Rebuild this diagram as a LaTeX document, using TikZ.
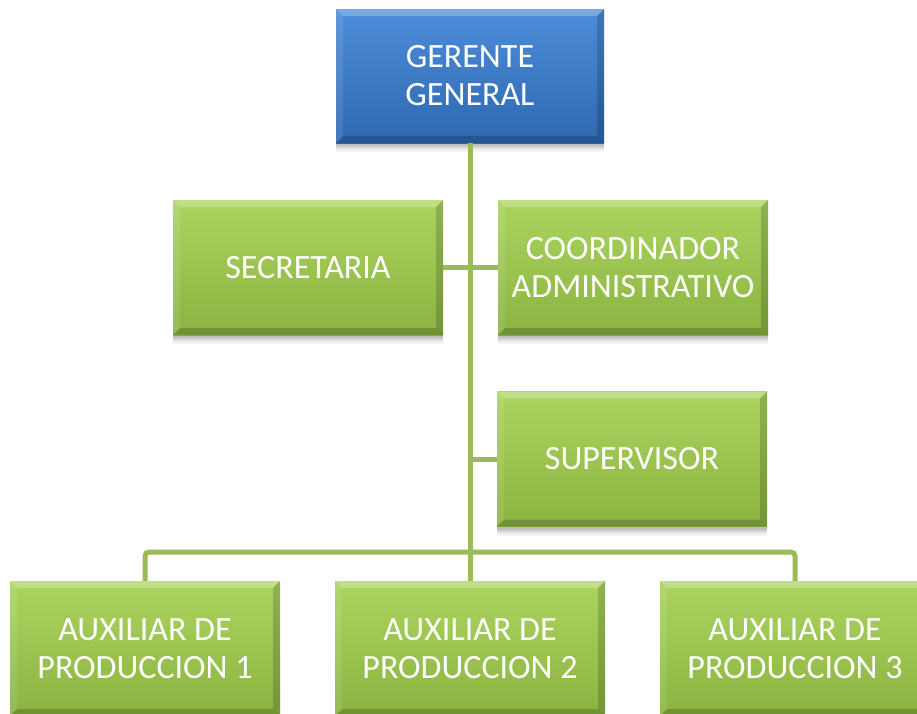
\documentclass[tikz,border=0pt]{standalone}
\usepackage{fontspec}
\setmainfont{Carlito}
\usetikzlibrary{shadows}
\definecolor{lineg}{HTML}{9BBB59}
\definecolor{gtop}{HTML}{ABD45F}
\definecolor{gbot}{HTML}{8AB341}
\definecolor{btop}{HTML}{4E8DDA}
\definecolor{bbot}{HTML}{2D68B0}
\tikzset{
  x=1pt, y=-1pt,
  bevel/.style={path picture={
    \fill[white,opacity=0.25] (path picture bounding box.north west) -- (path picture bounding box.north east)
      -- ([shift={(-7pt,-7pt)}]path picture bounding box.north east) -- ([shift={(7pt,-7pt)}]path picture bounding box.north west) -- cycle;
    \fill[white,opacity=0.10] (path picture bounding box.north west) -- ([shift={(7pt,-7pt)}]path picture bounding box.north west)
      -- ([shift={(7pt,7pt)}]path picture bounding box.south west) -- (path picture bounding box.south west) -- cycle;
    \fill[black,opacity=0.16] (path picture bounding box.north east) -- ([shift={(-7pt,-7pt)}]path picture bounding box.north east)
      -- ([shift={(-7pt,7pt)}]path picture bounding box.south east) -- (path picture bounding box.south east) -- cycle;
    \fill[black,opacity=0.18] (path picture bounding box.south west) -- ([shift={(7pt,7pt)}]path picture bounding box.south west)
      -- ([shift={(-7pt,7pt)}]path picture bounding box.south east) -- (path picture bounding box.south east) -- cycle;
  }},
  orgbox/.style={rectangle, minimum width=270pt, minimum height=135pt, inner sep=0pt,
    align=center, text=white, font=\fontsize{34}{38}\selectfont, bevel,
    general shadow={fill=black, opacity=0.04, shadow yshift=-9pt},
    general shadow={fill=black, opacity=0.06, shadow yshift=-7pt},
    general shadow={fill=black, opacity=0.08, shadow yshift=-5pt},
    general shadow={fill=black, opacity=0.10, shadow yshift=-3pt}},
  greenbox/.style={orgbox, top color=gtop, bottom color=gbot},
  bluebox/.style={orgbox, minimum width=268pt, minimum height=134pt, top color=btop, bottom color=bbot},
  conn/.style={draw=lineg, line width=5pt},
}
\begin{document}
\begin{tikzpicture}
\useasboundingbox (0,0) rectangle (917,713);
\clip (0,0) rectangle (917,713);
\fill[white] (0,0) rectangle (917,713);
\coordinate (bus) at (470,552);
\node[bluebox] (ger) at (470,76) {GERENTE\\GENERAL};
\node[greenbox] (sec) at (308,267.5) {SECRETARIA};
\node[greenbox] (coord) at (633,267.5) {COORDINADOR\\ADMINISTRATIVO};
\node[greenbox] (sup) at (632,459) {SUPERVISOR};
\node[greenbox] (aux1) at (145,648.5) {AUXILIAR DE\\PRODUCCION 1};
\node[greenbox] (aux2) at (470,648.5) {AUXILIAR DE\\PRODUCCION 2};
\node[greenbox] (aux3) at (795,648.5) {AUXILIAR DE\\PRODUCCION 3};
\draw[conn] (ger.south) -- (aux2.north);
\draw[conn] (sec.east) -- (coord.west);
\draw[conn] (ger.south |- sup.west) -- (sup.west);
\draw[conn, rounded corners=4pt] (aux1.north) |- (bus) -| (aux3.north);
\end{tikzpicture}
\end{document}
